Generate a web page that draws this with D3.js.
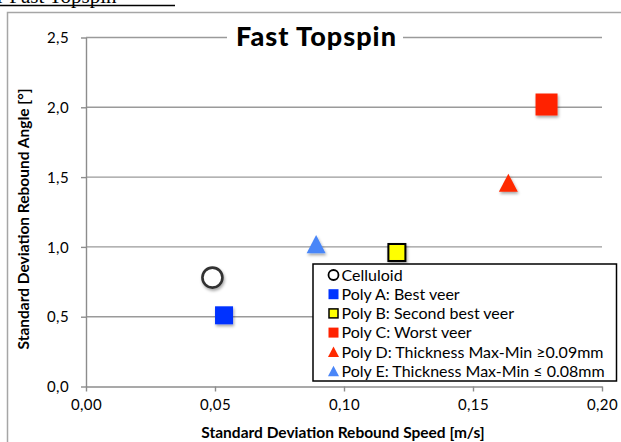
<!DOCTYPE html>
<html>
<head>
<meta charset="utf-8">
<script src="https://cdn.jsdelivr.net/npm/d3@7"></script>
<style>
html,body{margin:0;padding:0;background:#fff;overflow:hidden;}
svg{display:block;}
</style>
</head>
<body>
<svg id="chart" width="621" height="442"></svg>
<script>
// ---- data ----
const seriesNames = ["Celluloid", "Poly A: Best veer", "Poly B: Second best veer", "Poly C: Worst veer",
  "Poly D: Thickness Max-Min \u22650.09mm", "Poly E: Thickness Max-Min \u2264 0.08mm"];
const speedSD = [0.049, 0.0535, 0.1205, 0.1785, 0.1637, 0.0892];
const angleSD = [0.78, 0.51, 0.96, 2.02, 1.46, 1.02];
const xTicks = [0, 0.05, 0.10, 0.15, 0.20];
const yTicks = [0, 0.5, 1.0, 1.5, 2.0, 2.5];
const markerShapes = ["circle", "square", "square", "square", "triangle", "triangle"];
const markerFills = ["#ffffff", "#0033ff", "#ffff00", "#ff2200", "#ff2a00", "#4a86f8"];
const markerStrokes = ["#333333", "none", "#000000", "none", "none", "none"];
const markerSizes = [10, 18, 17, 22, 19, 19];

const svg = d3.select("#chart");
const font = "Lato, 'Open Sans', sans-serif";

const defs = svg.append("defs");
const f = defs.append("filter").attr("id","shadow").attr("x","-50%").attr("y","-50%").attr("width","200%").attr("height","200%");
f.append("feDropShadow").attr("dx",1).attr("dy",2).attr("stdDeviation",1.4).attr("flood-color","#000").attr("flood-opacity",0.35);

// fit a text element to a target width by adjusting letter spacing
function fitSpacing(sel, target) {
  const n = sel.text().length;
  const w = sel.node().getComputedTextLength();
  sel.attr("letter-spacing", ((target - w) / Math.max(1, n - 1)).toFixed(2));
}

// document heading cut off at top
svg.append("text").attr("x", -3).attr("y", 3)
  .attr("font-family","'Liberation Serif', serif").attr("font-size",21)
  .attr("fill","#000").text("r Fast Topspin");
svg.append("line").attr("x1",0).attr("x2",175).attr("y1",5.5).attr("y2",5.5)
  .attr("stroke","#000").attr("stroke-width",1.3);

// chart frame
svg.append("rect").attr("x",7.5).attr("y",12.5).attr("width",800).attr("height",600)
  .attr("fill","#fff").attr("stroke","#a6a6a6").attr("stroke-width",1.5);

const L = 86, R = 602, T = 37.5, B = 386.5;
const x = d3.scaleLinear().domain([0, 0.2]).range([L, R]);
const y = d3.scaleLinear().domain([0, 2.5]).range([B, T]);

// gridlines
svg.append("g").selectAll("line").data(yTicks.filter(d => d > 0)).join("line")
  .attr("x1", L).attr("x2", R).attr("y1", d => y(d)).attr("y2", d => y(d))
  .attr("stroke","#9a9a9a").attr("stroke-width",1.4);

const fmtX = d => d3.format(".2f")(d).replace(".", ",");
const fmtY = d => d3.format(".1f")(d).replace(".", ",");

const xAxis = svg.append("g").attr("transform", `translate(0,${B})`)
  .call(d3.axisBottom(x).tickValues(xTicks).tickFormat(fmtX).tickSize(5).tickSizeOuter(0));
const yAxis = svg.append("g").attr("transform", `translate(${L},0)`)
  .call(d3.axisLeft(y).tickValues(yTicks).tickFormat(fmtY).tickSize(5).tickSizeOuter(0));
[xAxis, yAxis].forEach(g => {
  g.select(".domain").attr("stroke","#8c8c8c").attr("stroke-width",1.4);
  g.selectAll(".tick line").attr("stroke","#8c8c8c").attr("stroke-width",1.4);
  g.selectAll("text").attr("font-family", font).attr("font-size", 15).attr("fill","#000");
});
xAxis.selectAll("text").attr("dy", "1.05em").attr("y", 8).attr("letter-spacing", 0.4);
yAxis.selectAll("text").attr("x", -17).attr("dy","0.35em").attr("letter-spacing", 0.4);

// axis titles
svg.append("text").attr("x", 343).attr("y", 438).attr("text-anchor","middle")
  .attr("font-family", font).attr("font-weight","bold").attr("font-size",15.5).attr("fill","#000")
  .text("Standard Deviation Rebound Speed [m/s]");
svg.append("text").attr("transform","translate(29,219) rotate(-90)").attr("text-anchor","middle")
  .attr("font-family", font).attr("font-weight","bold").attr("font-size",15.5).attr("fill","#000")
  .text("Standard Deviation Rebound Angle [\u00b0]");

// title with white background
svg.append("rect").attr("x",227).attr("y",22).attr("width",176).attr("height",30).attr("fill","#fff");
const title = svg.append("text").attr("x", 316.5).attr("y", 45.5).attr("text-anchor","middle")
  .attr("font-family", font).attr("font-weight",900).attr("font-size",27).attr("fill","#000")
  .text("Fast Topspin");
fitSpacing(title, 160);

function drawMarker(g, shape, size, fill, stroke) {
  if (shape === "circle") {
    g.append("circle").attr("r", size).attr("fill", fill).attr("stroke", stroke).attr("stroke-width", 2.6);
  } else if (shape === "square") {
    g.append("rect").attr("x", -size/2).attr("y", -size/2).attr("width", size).attr("height", size)
      .attr("fill", fill).attr("stroke", stroke).attr("stroke-width", stroke === "none" ? 0 : 2);
  } else {
    const h = size * 0.95;
    g.append("path").attr("d", `M0,${-h/2}L${size/2},${h/2}L${-size/2},${h/2}Z`).attr("fill", fill);
  }
}

// points
const pts = svg.append("g");
speedSD.forEach((v, i) => {
  const g = pts.append("g").attr("transform", `translate(${x(v)},${y(angleSD[i])})`).attr("filter","url(#shadow)");
  drawMarker(g, markerShapes[i], markerSizes[i], markerFills[i], markerStrokes[i]);
});

// legend
const lg = svg.append("g");
lg.append("rect").attr("x", 313).attr("y", 264).attr("width", 303.5).attr("height", 117)
  .attr("fill","#fff").attr("stroke","#000").attr("stroke-width",1.5);
const legSizes = [5, 10, 9, 10, 11, 11];
seriesNames.forEach((name, i) => {
  const cy = 275 + i * 19.2;
  const g = lg.append("g").attr("transform", `translate(333.5,${cy})`);
  drawMarker(g, markerShapes[i], legSizes[i], markerFills[i], markerStrokes[i] === "#333333" ? "#000" : markerStrokes[i]);
  if (markerShapes[i] === "circle") g.select("circle").attr("stroke-width", 1.8);
  if (markerShapes[i] === "square" && markerStrokes[i] !== "none") g.select("rect").attr("stroke-width", 1.5);
  lg.append("text").attr("x", 341.5).attr("y", cy).attr("dy","0.36em")
    .attr("font-family", font).attr("font-size", 16).attr("fill","#000").text(name);
});
</script>
</body>
</html>
